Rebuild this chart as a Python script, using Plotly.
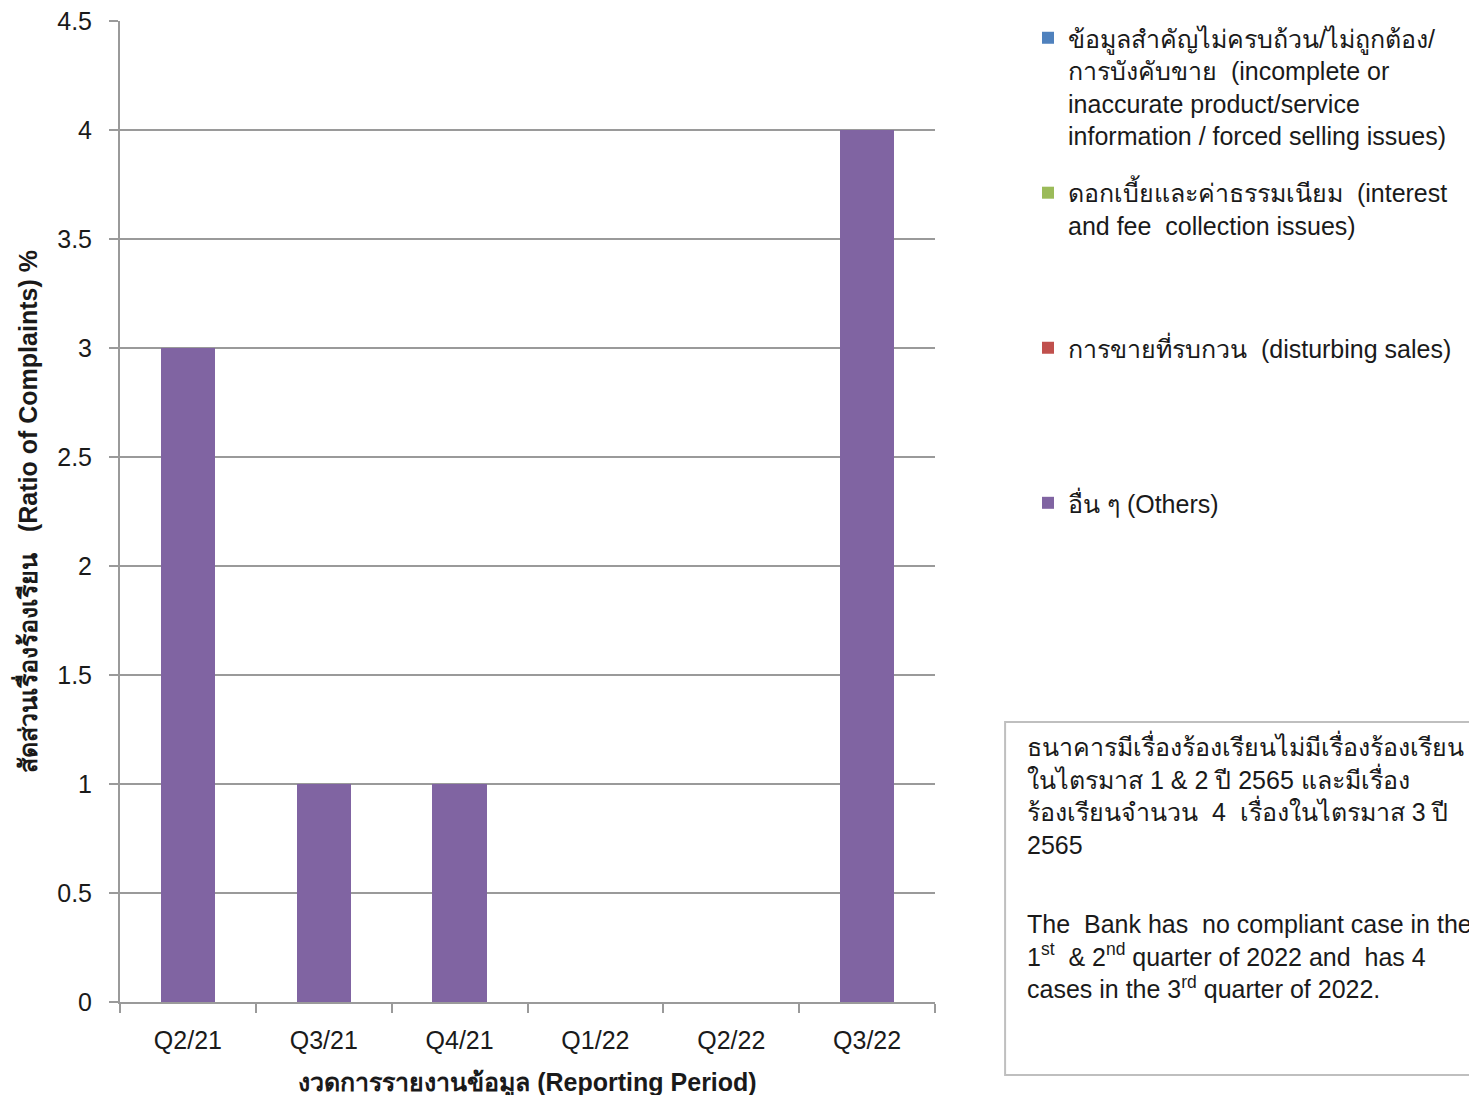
import plotly.graph_objects as go

categories = ["Q2/21", "Q3/21", "Q4/21", "Q1/22", "Q2/22", "Q3/22"]
info_issues = [0, 0, 0, 0, 0, 0]
fee_issues = [0, 0, 0, 0, 0, 0]
disturbing_sales = [0, 0, 0, 0, 0, 0]
others = [3, 1, 1, 0, 0, 4]

series_names = [
    "ข้อมูลสำคัญไม่ครบถ้วน/ไม่ถูกต้อง/<br>การบังคับขาย  (incomplete or<br>inaccurate product/service<br>information / forced selling issues)",
    "ดอกเบี้ยและค่าธรรมเนียม  (interest<br>and fee  collection issues)",
    "การขายที่รบกวน  (disturbing sales)",
    "อื่น ๆ (Others)",
]
series_values = [info_issues, fee_issues, disturbing_sales, others]
series_colors = ["#4F81BD", "#9BBB59", "#C0504D", "#8064A2"]

note_thai = (
    "ธนาคารมีเรื่องร้องเรียนไม่มีเรื่องร้องเรียน<br>"
    "ในไตรมาส 1 & 2 ปี 2565 และมีเรื่อง<br>"
    "ร้องเรียนจำนวน  4  เรื่องในไตรมาส 3 ปี<br>"
    "2565"
)
note_english = (
    "The  Bank has  no compliant case in the<br>"
    "1<sup>st</sup>  & 2<sup>nd</sup> quarter of 2022 and  has 4<br>"
    "cases in the 3<sup>rd</sup> quarter of 2022."
)

FONT = "Liberation Sans, Noto Sans, sans-serif"
FS = 25
TXT = "#1a1a1a"
GRID = "#9A9A9A"

legend_ids = ["legend", "legend2", "legend3", "legend4"]
legend_tops = [0.9936, 0.8521, 0.7105, 0.5689]

fig = go.Figure()
for name, vals, col, lid in zip(series_names, series_values, series_colors, legend_ids):
    fig.add_trace(go.Bar(
        x=categories, y=vals, name=name, marker_color=col,
        marker_line_width=0, legend=lid,
    ))

layout_legends = {}
for lid, ytop in zip(legend_ids, legend_tops):
    layout_legends[lid] = dict(
        xref="container", yref="container", x=0.6906, y=ytop,
        xanchor="left", yanchor="top", valign="top",
        font=dict(family=FONT, size=FS, color=TXT),
        bgcolor="rgba(0,0,0,0)",
    )

fig.update_layout(
    width=1477, height=1095,
    barmode="stack", bargap=0.6,
    paper_bgcolor="white", plot_bgcolor="white",
    margin=dict(l=112, r=550, t=13, b=101),
    font=dict(family=FONT, size=FS, color=TXT),
    showlegend=True,
    **layout_legends,
    xaxis=dict(
        type="category", tickson="boundaries", ticks="outside", ticklen=9,
        tickcolor=GRID, tickwidth=2,
        showline=True, linecolor=GRID, linewidth=2,
        showgrid=False, ticklabelstandoff=15, automargin=False,
        tickfont=dict(size=FS),
        title=dict(text="<b>งวดการรายงานข้อมูล (Reporting Period)</b>", font=dict(size=FS), standoff=20),
    ),
    yaxis=dict(
        range=[0, 4.5], tickmode="array",
        tickvals=[0, 0.5, 1, 1.5, 2, 2.5, 3, 3.5, 4, 4.5],
        ticktext=["0", "0.5", "1", "1.5", "2", "2.5", "3", "3.5", "4", "4.5"],
        ticks="outside", ticklen=9,
        tickcolor=GRID, tickwidth=2,
        showline=True, linecolor=GRID, linewidth=2,
        showgrid=True, gridcolor=GRID, gridwidth=2,
        zeroline=False, ticklabelstandoff=12, ticklabeloverflow="allow",
        automargin=False,
        tickfont=dict(size=FS),
        title=dict(text="<b>สัดส่วนเรื่องร้องเรียน   (Ratio of Complaints) %</b>", font=dict(size=FS), standoff=12),
    ),
)

fig.add_shape(
    type="rect", xref="paper", yref="paper",
    x0=1.086, x1=1.67, y0=-0.0744, y1=0.2854,
    line=dict(color="#BFBFBF", width=2), fillcolor="white", layer="below",
)
fig.add_annotation(
    xref="paper", yref="paper", x=1.11, y=0.279,
    xanchor="left", yanchor="top", align="left", showarrow=False,
    text=note_thai, font=dict(family=FONT, size=FS, color=TXT),
)
fig.add_annotation(
    xref="paper", yref="paper", x=1.11, y=0.096,
    xanchor="left", yanchor="top", align="left", showarrow=False,
    text=note_english, font=dict(family=FONT, size=FS, color=TXT),
)

fig.write_html("out.html")
